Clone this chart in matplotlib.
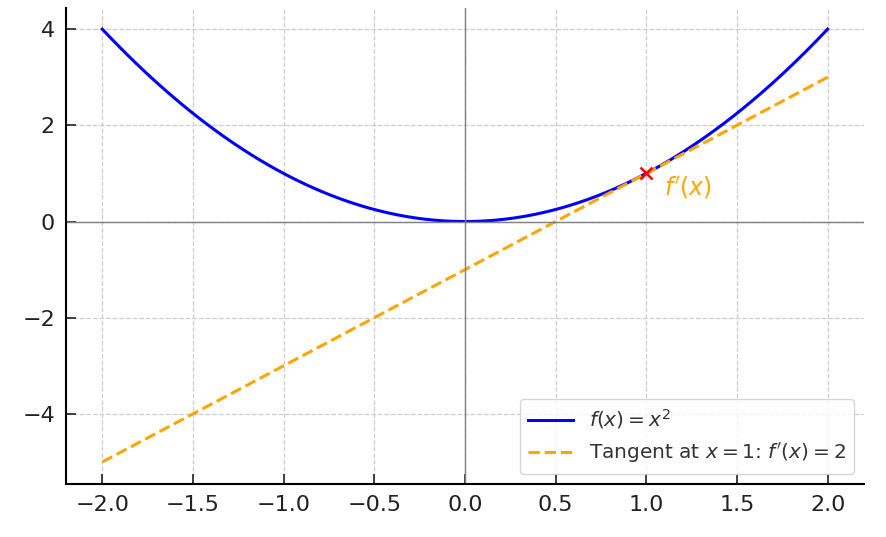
import numpy as np
import matplotlib.pyplot as plt

# Data
x = np.linspace(-2, 2, 400)
y = x ** 2
x0 = 1
y0 = 1
slope = 2
tangent = slope * (x - x0) + y0

fig = plt.figure(figsize=(8.86, 5.37), dpi=100)
ax = fig.add_axes([0.0745, 0.0994, 0.9005, 0.8866])

ax.plot(x, y, color='blue', lw=2.2, label=r'$f(x) = x^2$')
ax.plot(x, tangent, color='orange', lw=2.2, ls='--',
        label=r"Tangent at $x = 1$: $f'(x) = 2$")
ax.plot(x0, y0, 'x', color='red', ms=9, mew=1.8)
ax.text(1.1, 0.55, r"$f'(x)$", color='orange', fontsize=17)

ax.axhline(0, color='gray', lw=1)
ax.axvline(0, color='gray', lw=1)
ax.grid(True, ls='--', color='#cccccc', lw=0.9)

ax.spines['top'].set_visible(False)
ax.spines['right'].set_visible(False)
ax.spines['left'].set_linewidth(1.5)
ax.spines['bottom'].set_linewidth(1.5)
ax.tick_params(direction='in', length=7, width=1.2, labelsize=16, pad=8,
               colors='#222222')
ax.set_xticks([-2.0, -1.5, -1.0, -0.5, 0.0, 0.5, 1.0, 1.5, 2.0])
ax.set_yticks([-4, -2, 0, 2, 4])

leg = ax.legend(loc='lower right', fontsize=14.5, framealpha=0.8,
                edgecolor='#cccccc', handlelength=2.2)
for t in leg.get_texts():
    t.set_color('#333333')

fig.savefig('out.png', dpi=100)
